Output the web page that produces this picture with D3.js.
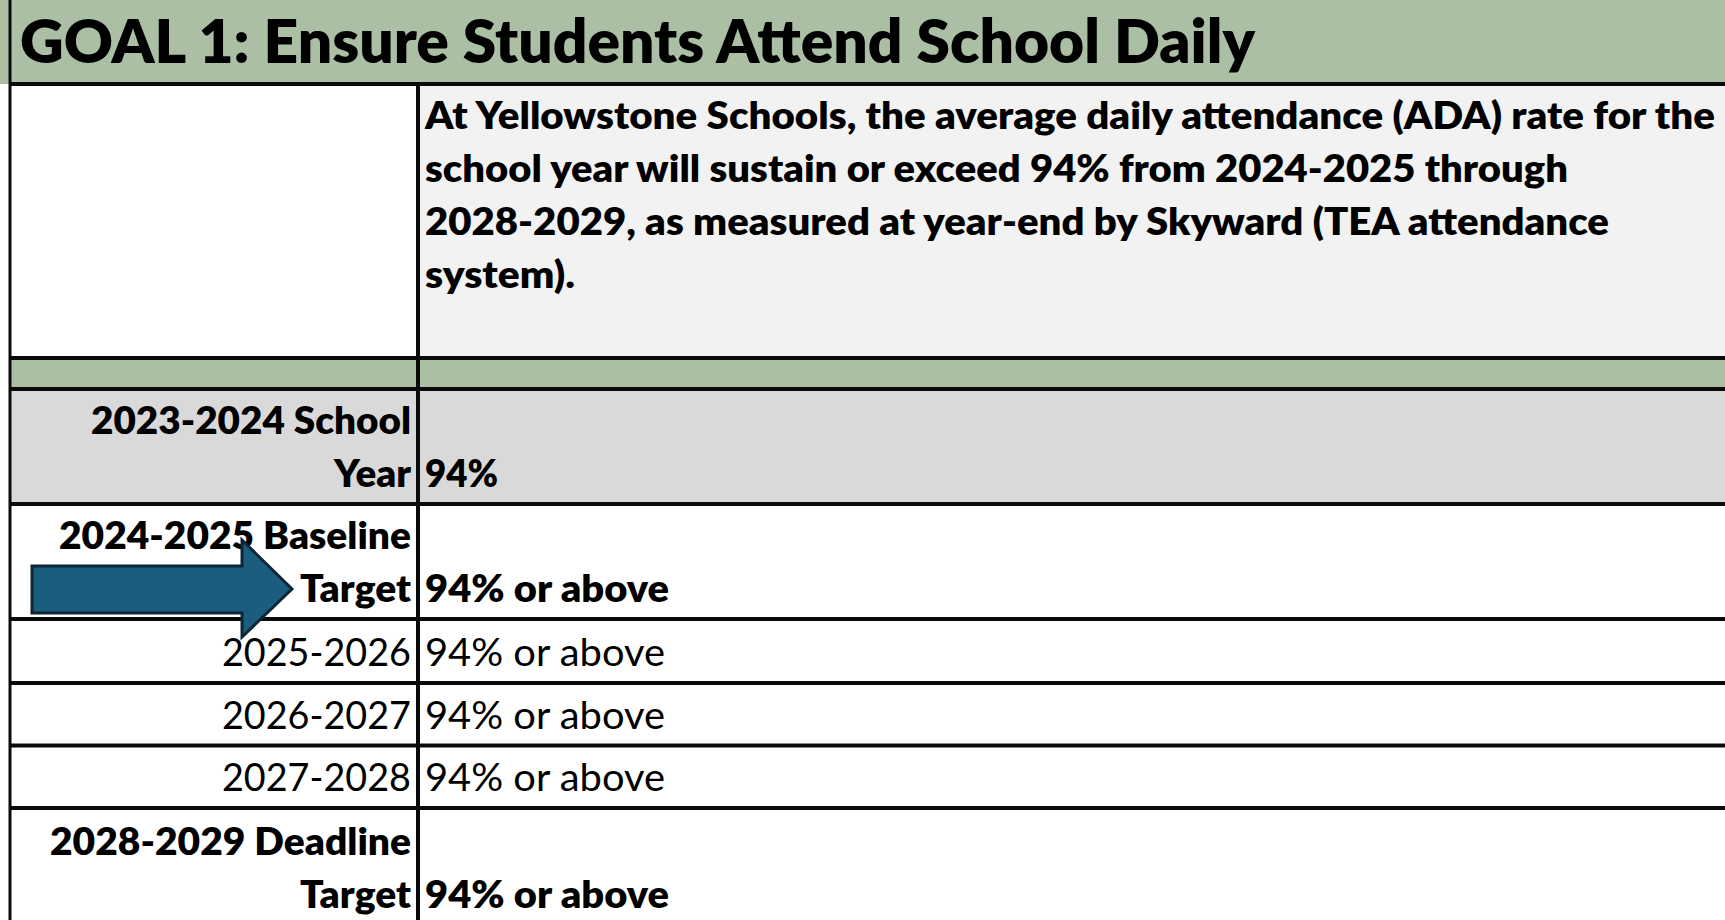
<!DOCTYPE html>
<html>
<head>
<meta charset="utf-8">
<script src="https://cdn.jsdelivr.net/npm/d3@7"></script>
<style>
  html, body { margin: 0; padding: 0; background: #fff; }
  svg { display: block; }
</style>
</head>
<body>
<svg id="chart" width="1725" height="920"></svg>
<script>
// ---- data ----
const titleText = "GOAL 1: Ensure Students Attend School Daily";
const goalLines = [
  "At Yellowstone Schools, the average daily attendance (ADA) rate for the",
  "school year will sustain or exceed 94% from 2024-2025 through",
  "2028-2029, as measured at year-end by Skyward (TEA attendance",
  "system)."
];
const rowLabels = [
  ["2023-2024 School", "Year"],
  ["2024-2025 Baseline", "Target"],
  ["2025-2026"],
  ["2026-2027"],
  ["2027-2028"],
  ["2028-2029 Deadline", "Target"]
];
const rowValues = ["94%", "94% or above", "94% or above", "94% or above", "94% or above", "94% or above"];
const rowBold = [true, true, false, false, false, true];
const highlightRow = 1; // arrow points at baseline target

// ---- layout (Calibri-like rendered widths, px) ----
const W = 1725, H = 920;
const xLeft = 10, xDiv = 418, xRight = W, labelRight = 411, valueLeft = 425;
const titleBottom = 84, goalBottom = 358, sepBottom = 389;
const rowEdges = [389, 504, 619, 683, 745.5, 808, 970];
const green = "#abbfa4", lightGray = "#f2f2f2", midGray = "#d9d9d9";
const font = "Lato, 'Open Sans', sans-serif";
const bodySize = 38.5, titleSize = 61, lineGap = 53, boldW = 800;
const widthOf = {
  "GOAL 1: Ensure Students Attend School Daily": 1235,
  "At Yellowstone Schools, the average daily attendance (ADA) rate for the": 1290,
  "school year will sustain or exceed 94% from 2024-2025 through": 1143,
  "2028-2029, as measured at year-end by Skyward (TEA attendance": 1184,
  "system).": 150,
  "2023-2024 School": 320, "Year": 77, "2024-2025 Baseline": 352, "Target": 111,
  "2025-2026": 189, "2026-2027": 189, "2027-2028": 189, "2028-2029 Deadline": 361,
  "94%": 73, "94% or above|b": 244, "94% or above|r": 240
};

const svg = d3.select("#chart");

const rowTop = d3.scaleOrdinal().domain(d3.range(rowLabels.length)).range(rowEdges.slice(0, -1));
const rowBottom = d3.scaleOrdinal().domain(d3.range(rowLabels.length)).range(rowEdges.slice(1));

// backgrounds
svg.append("rect").attr("x", 0).attr("y", 0).attr("width", W).attr("height", titleBottom).attr("fill", green);
svg.append("rect").attr("x", xLeft).attr("y", titleBottom).attr("width", xDiv - xLeft).attr("height", goalBottom - titleBottom).attr("fill", "#fff");
svg.append("rect").attr("x", xDiv).attr("y", titleBottom).attr("width", xRight - xDiv).attr("height", goalBottom - titleBottom).attr("fill", lightGray);
svg.append("rect").attr("x", xLeft).attr("y", goalBottom).attr("width", xRight - xLeft).attr("height", sepBottom - goalBottom).attr("fill", green);

svg.selectAll("rect.row").data(rowLabels).join("rect")
  .attr("class", "row")
  .attr("x", xLeft).attr("y", (d, i) => rowTop(i))
  .attr("width", xRight - xLeft).attr("height", (d, i) => rowBottom(i) - rowTop(i))
  .attr("fill", (d, i) => i === 0 ? midGray : "#fff");

function addText(txt, x, y, size, weight, anchor) {
  const key = (txt === "94% or above") ? txt + (weight >= 700 ? "|b" : "|r") : txt;
  const t = svg.append("text")
    .attr("x", x).attr("y", y)
    .attr("font-family", font).attr("font-size", size).attr("font-weight", weight)
    .attr("text-anchor", anchor)
    .attr("fill", "#000")
    .text(txt);
  if (widthOf[key]) t.attr("textLength", widthOf[key]).attr("lengthAdjust", "spacingAndGlyphs");
}

// title
addText(titleText, 20, 63, titleSize, boldW, "start");

// goal statement
goalLines.forEach((ln, i) => addText(ln, valueLeft, 129 + i * lineGap, bodySize, boldW, "start"));

// rows
rowLabels.forEach((lines, i) => {
  const wgt = rowBold[i] ? boldW : 400;
  const base = rowBottom(i) - (i === rowLabels.length - 1 ? 62 : 17);
  lines.forEach((ln, j) => {
    const y = base - (lines.length - 1 - j) * lineGap;
    addText(ln, labelRight, y, bodySize, wgt, "end");
  });
  addText(rowValues[i], valueLeft, base, bodySize, wgt, "start");
});

// grid lines
const hLines = [titleBottom, goalBottom, sepBottom].concat(rowEdges.slice(1, -1));
svg.selectAll("line.h").data(hLines).join("line")
  .attr("class", "h")
  .attr("x1", xLeft).attr("x2", xRight).attr("y1", d => d).attr("y2", d => d)
  .attr("stroke", "#0a0a0a").attr("stroke-width", 4);
svg.append("line").attr("x1", xLeft).attr("x2", xLeft).attr("y1", 0).attr("y2", H)
  .attr("stroke", "#0a0a0a").attr("stroke-width", 3);
svg.append("line").attr("x1", xDiv).attr("x2", xDiv).attr("y1", titleBottom).attr("y2", H)
  .attr("stroke", "#0a0a0a").attr("stroke-width", 4);

// arrow pointing to the highlighted row
const tipY = rowBottom(highlightRow) - 30;
const arrow = d3.path();
arrow.moveTo(32, tipY - 23);
arrow.lineTo(242, tipY - 23);
arrow.lineTo(242, tipY - 49);
arrow.lineTo(292, tipY);
arrow.lineTo(242, tipY + 48);
arrow.lineTo(242, tipY + 24);
arrow.lineTo(32, tipY + 24);
arrow.closePath();
svg.append("path").attr("d", arrow.toString())
  .attr("fill", "#1a5d7f").attr("stroke", "#0c2636").attr("stroke-width", 3).attr("stroke-linejoin", "miter");
</script>
</body>
</html>
